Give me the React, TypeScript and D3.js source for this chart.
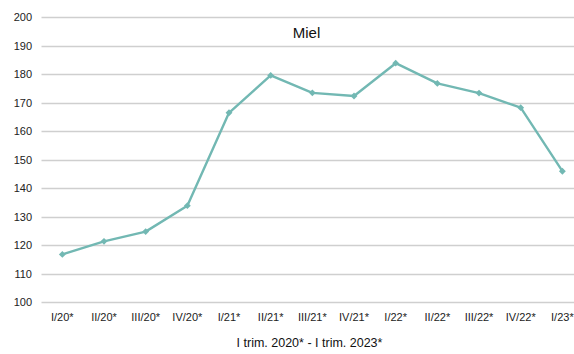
import React from "react";
import * as d3 from "d3";

const categories = ["I/20*", "II/20*", "III/20*", "IV/20*", "I/21*", "II/21*", "III/21*", "IV/21*", "I/22*", "II/22*", "III/22*", "IV/22*", "I/23*"];
const values = [116.8, 121.4, 124.8, 133.9, 166.5, 179.6, 173.5, 172.4, 183.9, 176.8, 173.4, 168.3, 146.0];
const yTicks = [100, 110, 120, 130, 140, 150, 160, 170, 180, 190, 200];
const title = "Miel";
const xTitle = "I trim. 2020* - I trim. 2023*";

const W = 574, H = 354;
const font = "'Liberation Sans', Arial, sans-serif";

export default function App() {
  const x = d3.scaleBand<string>().domain(categories).range([41.5, 41.5 + 41.67 * 13]);
  const y = d3.scaleLinear().domain([100, 200]).range([302.3, 17.3]);
  const cx = (c: string) => (x(c) as number) + x.bandwidth() / 2;
  const line = d3.line<number>().x((_, i) => cx(categories[i])).y((d) => y(d));
  const diamond = d3.symbol().type(d3.symbolDiamond2).size(30)() as string;
  return (
    <svg width={W} height={H} style={{ position: "absolute", left: 0, top: 0, background: "#fff" }}>
      <rect width={W} height={H} fill="#fff" />
      {yTicks.map((t) => (
        <g key={t}>
          <line x1={41.5} x2={W} y1={Math.round(y(t)) + 0.5} y2={Math.round(y(t)) + 0.5} stroke="#cfcfcf" strokeWidth={1.3} />
          <text x={32} y={y(t) + 4} textAnchor="end" fontFamily={font} fontSize={11} fill="#222">{t}</text>
        </g>
      ))}
      {categories.map((c) => (
        <text key={c} x={cx(c)} y={321} textAnchor="middle" fontFamily={font} fontSize={11} fill="#222">{c}</text>
      ))}
      <path d={line(values) as string} fill="none" stroke="#72b8b3" strokeWidth={2.4} strokeLinejoin="round" />
      {values.map((v, i) => (
        <path key={i} d={diamond} transform={`translate(${cx(categories[i])},${y(v)})`} fill="#72b8b3" />
      ))}
      <text x={306.5} y={38.3} textAnchor="middle" fontFamily={font} fontSize={15} fill="#111">{title}</text>
      <text x={309.5} y={346.7} textAnchor="middle" fontFamily={font} fontSize={12.5} fill="#111">{xTitle}</text>
    </svg>
  );
}
